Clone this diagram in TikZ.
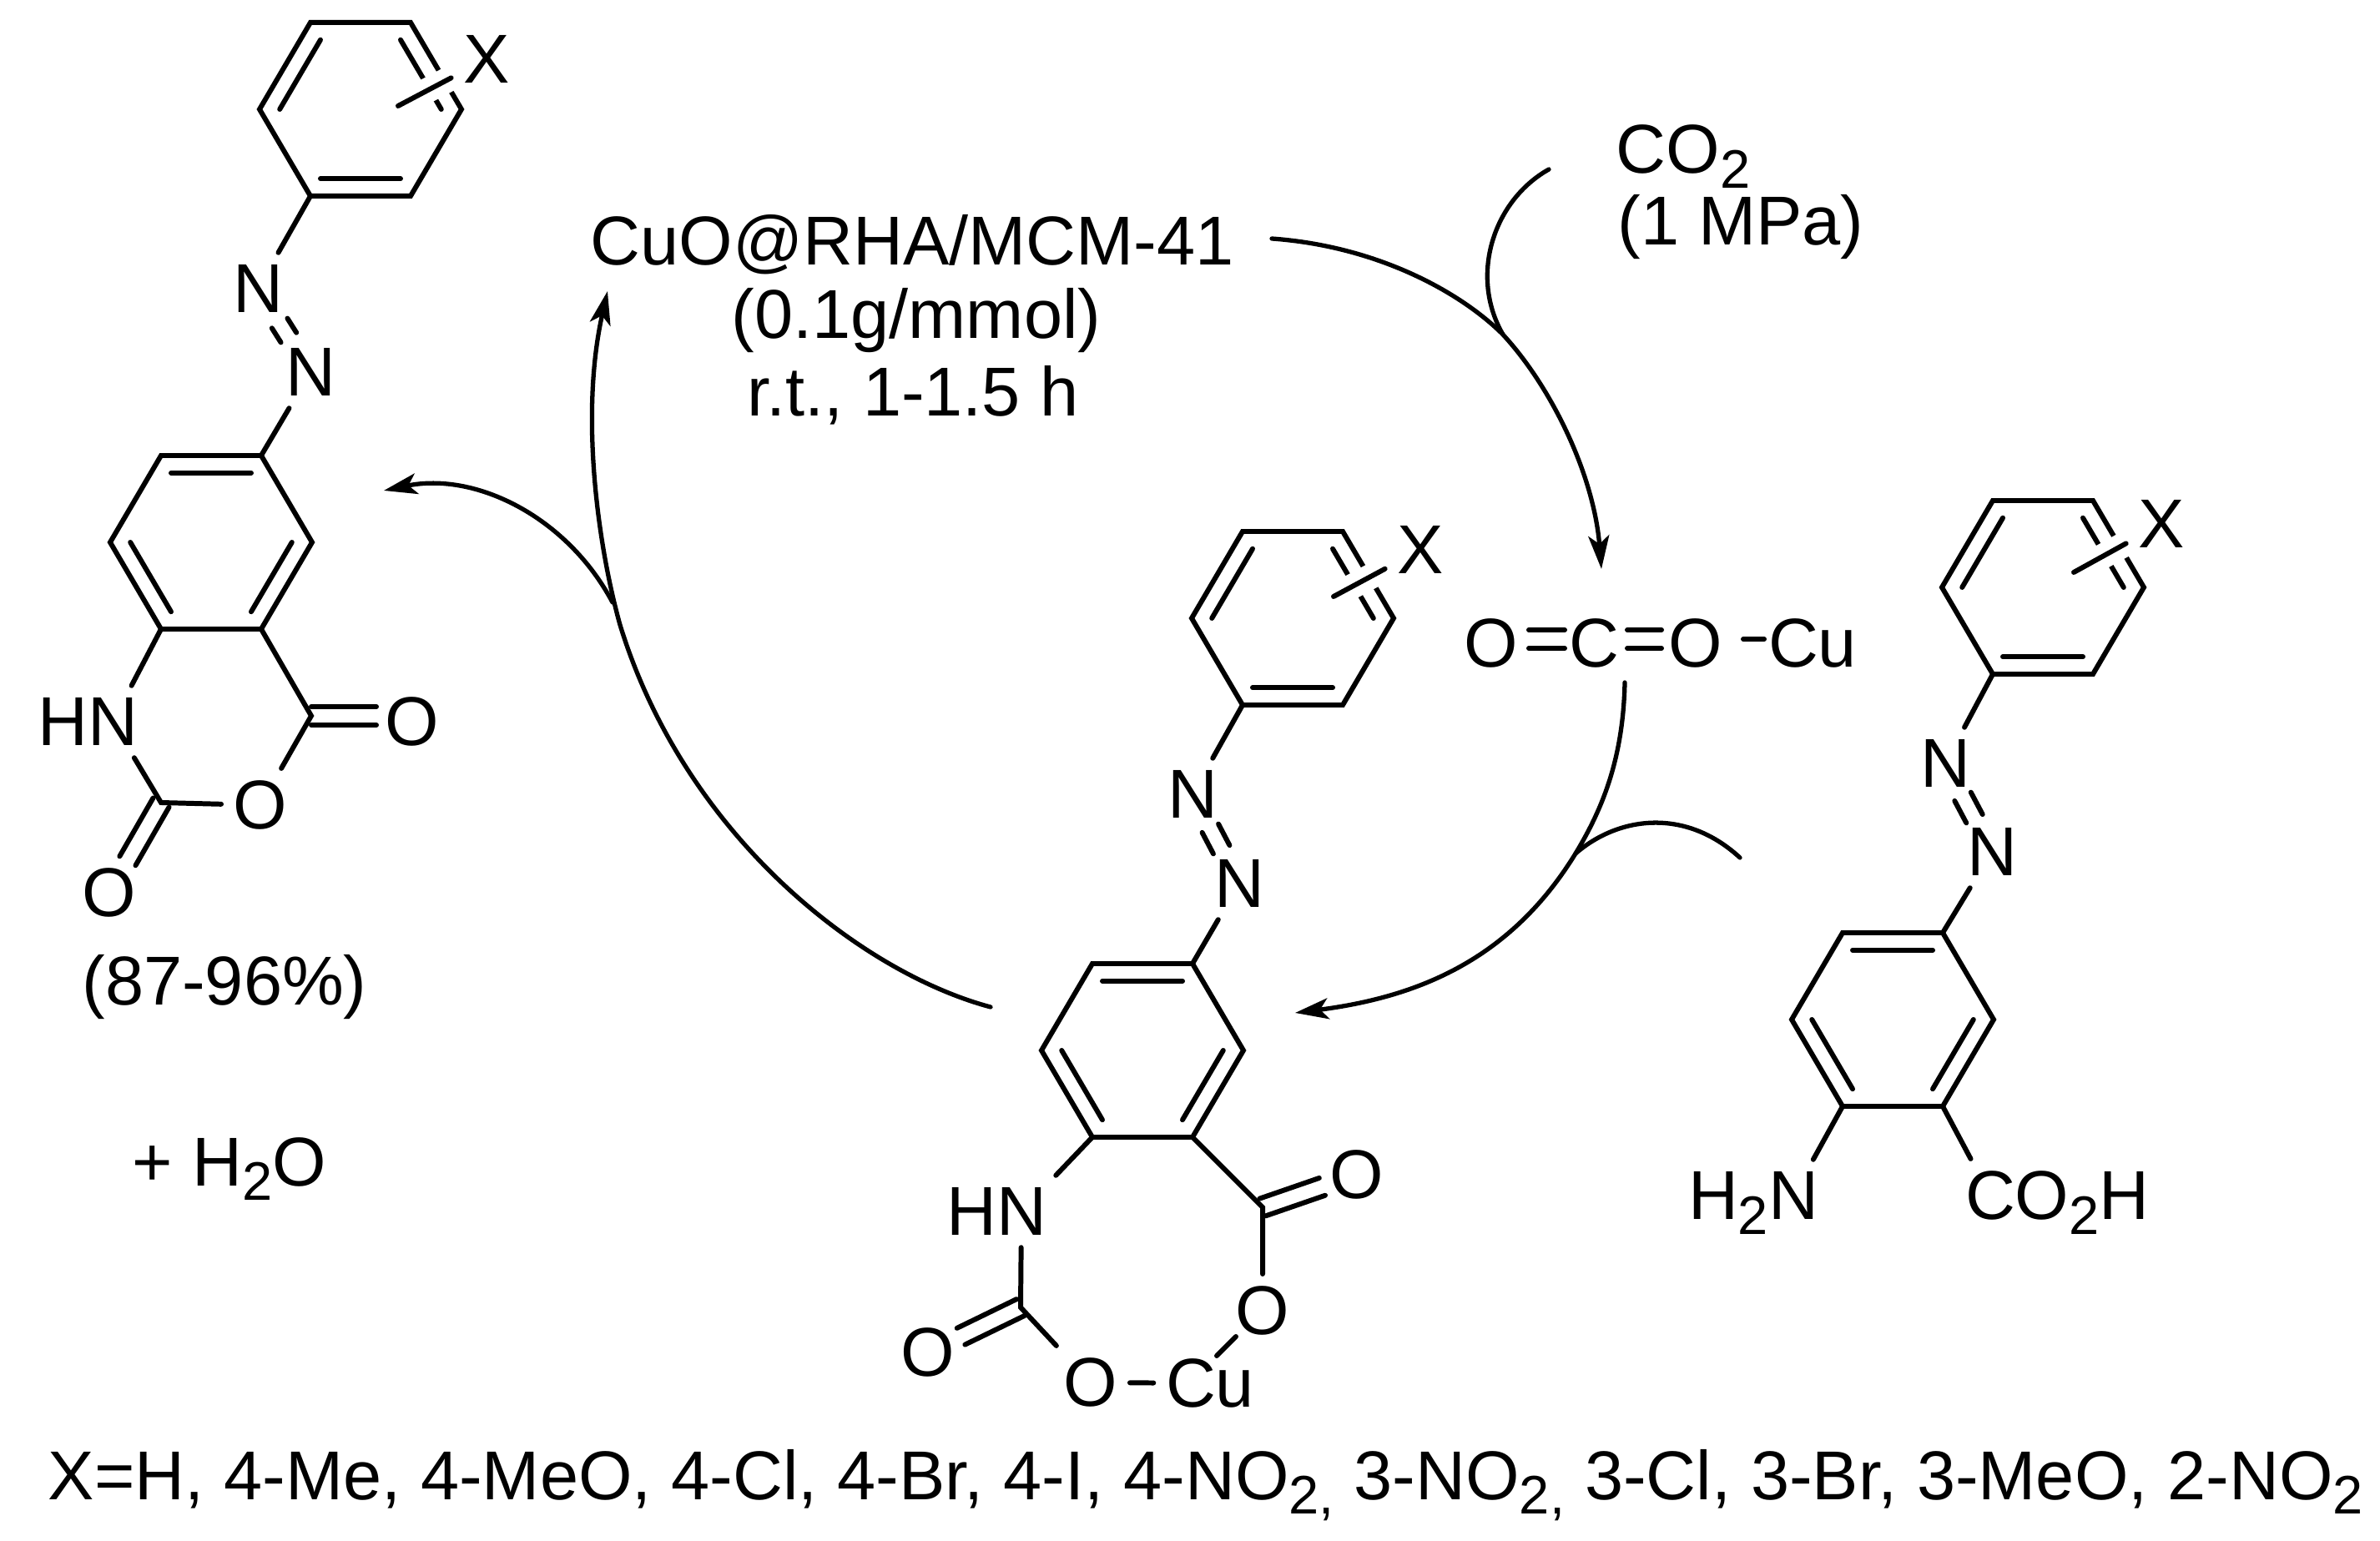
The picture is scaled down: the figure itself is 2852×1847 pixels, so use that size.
\documentclass[tikz,border=0pt]{standalone}
\usepackage{fontspec}
\setmainfont{Liberation Sans}
\usetikzlibrary{arrows.meta,calc}

\newcommand{\chemsub}[1]{\smash{\raisebox{-5pt}{\fontsize{18.5}{18.5}\selectfont #1}}}

% hexagon from its centre: name, x, y, edges that carry the inner line
\newcommand{\hexring}[4]{%
  \coordinate (#1) at (#2,#3);
  \coordinate (#11) at (#2-60,#3-104);
  \coordinate (#12) at (#2+60,#3-104);
  \coordinate (#13) at (#2+121,#3);
  \coordinate (#14) at (#2+60,#3+104);
  \coordinate (#15) at (#2-60,#3+104);
  \coordinate (#16) at (#2-121,#3);
  \draw[bond] (#11) -- (#12) -- (#13) -- (#14) -- (#15) -- (#16) -- cycle;
  \foreach \p/\q in {#4}
    \draw[bond] ($(#1\p)!0.2!(#1)$) -- ($(#1\q)!0.2!(#1)$);
}
% two parallel lines: from, to, shorten at start, shorten at end
\newcommand{\dblbond}[4]{%
  \draw[bond,shorten <=#3,shorten >=#4] ($(#1)!1.1mm!90:(#2)$) -- ($(#2)!1.1mm!-90:(#1)$);
  \draw[bond,shorten <=#3,shorten >=#4] ($(#1)!1.1mm!-90:(#2)$) -- ($(#2)!1.1mm!90:(#1)$);
}

\tikzset{
  every node/.style={font=\fontsize{23.6}{27}\selectfont, text=black},
  atom/.style={inner sep=1.4mm},
  txt/.style={inner sep=0pt, anchor=base},
  txtleft/.style={inner sep=0pt, anchor=base west},
  bond/.style={line width=1.7pt, line cap=round},
  crossbond/.style={bond, preaction={draw, white, line width=3mm, line cap=butt}},
  arc/.style={line width=1.5pt, line cap=round},
  arcarrow/.style={arc, -{Stealth[length=4mm, width=2.5mm, inset=1mm]}}
}

\begin{document}
\begin{tikzpicture}[x=0.1mm, y=-0.1mm]
    \useasboundingbox (0,0) rectangle (2852,1847);

    % 1. Rings
    \hexring{A}{432}{131}{6/1,2/3,4/5}
    \hexring{B}{253}{650}{1/2,3/4,5/6}
    \hexring{C}{1549}{741}{6/1,2/3,4/5}
    \hexring{D}{1369}{1259}{1/2,3/4,5/6}
    \hexring{E}{2448}{704}{6/1,2/3,4/5}
    \hexring{F}{2268}{1222}{1/2,3/4,5/6}

    % 2. Atoms
    \node[atom] (xa)  at (583,71)   {X};
    \node[atom] (na1) at (309,346)  {N};
    \node[atom] (na2) at (372,446)  {N};
    \node[atom] (nb)  at (135,865)  {\llap{H}N};
    \node[atom] (oa1) at (494,865)  {O};
    \node[atom] (oa2) at (312,965)  {O};
    \node[atom] (oa3) at (131,1070) {O};

    \node[atom] (xc)  at (1702,659)  {X};
    \node[atom] (nc1) at (1429,952)  {N};
    \node[atom] (nc2) at (1485,1059) {N};
    \node[atom] (nd)  at (1224,1452) {\llap{H}N};
    \node[atom] (od1) at (1626,1408) {O};
    \node[atom] (od2) at (1513,1571) {O};
    \node[atom] (od3) at (1307,1657) {O};
    \node[atom] (od4) at (1112,1621) {O};
    \node[atom] (cud) at (1450,1658) {Cu};

    \node[atom] (xe)  at (2590,628)  {X};
    \node[atom] (ne1) at (2331,915)  {N};
    \node[atom] (ne2) at (2387,1021) {N};
    \node[atom] (nf)  at (2149,1433) {\llap{H\chemsub{2}}N};
    \node[atom] (cf)  at (2385,1433) {C\rlap{O\chemsub{2}H}};

    \node[atom] (og1) at (1787,771) {O};
    \node[atom] (cg)  at (1910,771) {C};
    \node[atom] (og2) at (2032,771) {O};
    \node[atom] (cug) at (2172,771) {Cu};

    % 3. Texts
    \node[txt] (cat1) at (1093,318) {CuO@RHA/MCM-41};
    \node[txt] (cat2) at (1098,406) {(0.1g/mmol)};
    \node[txt] (cat3) at (1094,499) {r.t., 1-1.5 h};
    \node[txtleft] (co2) at (1936,208) {CO\chemsub{2}};
    \node[txtleft] (mpa) at (1938,294) {(1 MPa)};
    \node[txt] (yld) at (269,1205) {(87-96\%)};
    \node[txt] (wat) at (275,1421) {+ H\chemsub{2}O};
    \node[txtleft] (subst) at (57,1797) {\spaceskip=6.8pt X=H, 4-Me, 4-MeO, 4-Cl, 4-Br, 4-I, 4-NO\chemsub{2,} 3-NO\chemsub{2,} 3-Cl, 3-Br, 3-MeO, 2-NO\chemsub{2}};

    % 4. Substituent lines
    \coordinate (sa) at (477,127);
    \coordinate (sc) at (1598,715);
    \coordinate (se) at (2485,686);
    \draw[crossbond] (sa) -- (xa);
    \draw[crossbond] (sc) -- (xc);
    \draw[crossbond] (se) -- (xe);

    % 5. Product
    \coordinate (ca1) at (373,858);
    \coordinate (ca2) at (193,962);
    \coordinate (ca3) at (494,858);
    \draw[bond] (A5) -- (na1);
    \draw[bond] (na2) -- (B2);
    \dblbond{na1}{na2}{4.9mm}{4.9mm}
    \draw[bond] (B4) -- (ca1) -- (oa2) -- (ca2) -- (nb) -- (B5);
    \dblbond{ca1}{ca3}{0mm}{4.3mm}
    \dblbond{ca2}{oa3}{0mm}{4.4mm}

    % 6. Copper intermediate
    \coordinate (cd1) at (1513,1447);
    \coordinate (cd2) at (1223,1567);
    \coordinate (kd1) at (1458,1625);
    \coordinate (kd2) at (1481,1602);
    \draw[bond] (C5) -- (nc1);
    \draw[bond] (nc2) -- (D2);
    \dblbond{nc1}{nc2}{4.6mm}{4.6mm}
    \draw[bond] (D4) -- (cd1) -- (od2);
    \draw[bond] (D5) -- (nd) -- (cd2) -- (od3) -- (cud);
    \draw[bond] (kd1) -- (kd2);
    \dblbond{cd1}{od1}{0mm}{4.4mm}
    \dblbond{cd2}{od4}{0mm}{4.4mm}

    % 7. Substrate
    \draw[bond] (E5) -- (ne1);
    \draw[bond] (ne2) -- (F2);
    \dblbond{ne1}{ne2}{4.5mm}{4.5mm}
    \draw[bond] (F5) -- (nf);
    \draw[bond] (F4) -- (cf);

    % 8. Activated CO2
    \coordinate (ga) at (1787,766);
    \coordinate (gb) at (1910,766);
    \coordinate (gc) at (2032,766);
    \coordinate (gd) at (2089,766);
    \coordinate (ge) at (2114,766);
    \dblbond{ga}{gb}{4.5mm}{3.5mm}
    \dblbond{gb}{gc}{4mm}{4.1mm}
    \draw[bond] (gd) -- (ge);

    % 9. Cycle arrows
    \coordinate (ta1) at (1524,286);
    \coordinate (ta2) at (1801,401);
    \coordinate (ta3) at (1919,682);
    \coordinate (tb1) at (1856,203);
    \draw[arcarrow] (ta1) .. controls (1650,295) and (1750,350) .. (ta2) .. controls (1860,465) and (1910,570) .. (ta3);
    \draw[arc] (tb1) .. controls (1790,240) and (1760,330) .. (ta2);

    \coordinate (ra1) at (1947,818);
    \coordinate (ra2) at (1888,1023);
    \coordinate (ra3) at (1552,1214);
    \coordinate (rb1) at (2085,1028);
    \draw[arcarrow] (ra1) .. controls (1945,910) and (1920,970) .. (ra2) .. controls (1810,1150) and (1700,1195) .. (ra3);
    \draw[arc] (rb1) .. controls (2020,968) and (1940,978) .. (ra2);

    \coordinate (la1) at (1187,1207);
    \coordinate (la2) at (743,749);
    \coordinate (la3) at (728,349);
    \coordinate (lb1) at (734,722);
    \coordinate (lb2) at (460,588);
    \draw[arcarrow] (la1) .. controls (1030,1165) and (820,1000) .. (la2) .. controls (718,660) and (694,500) .. (la3);
    \draw[arcarrow] (lb1) .. controls (680,620) and (570,565) .. (lb2);
\end{tikzpicture}
\end{document}
